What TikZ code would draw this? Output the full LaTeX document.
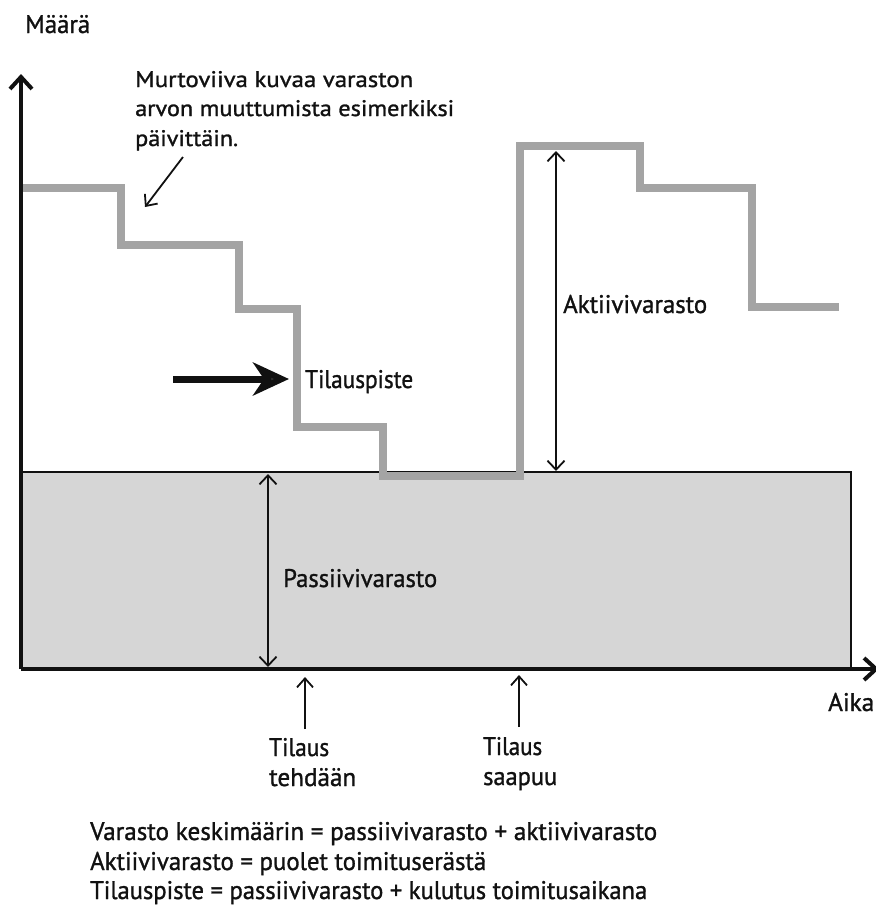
\documentclass[tikz,border=0pt]{standalone}
\usepackage{fontspec}
\usepackage{graphicx}
\setmainfont{PT Sans}[FakeBold=1.2]
\usetikzlibrary{arrows.meta}
\definecolor{inkc}{HTML}{111111}
\definecolor{fillc}{HTML}{D6D6D6}
\definecolor{stepc}{HTML}{A4A4A4}
\newsavebox\fitbx
\newcommand\fitline[2]{\sbox\fitbx{#2}\pgfmathsetmacro\fitsx{#1/\the\wd\fitbx}\scalebox{\fitsx}[1]{\usebox\fitbx}}
\begin{document}
\begin{tikzpicture}[x=1pt,y=-1pt,
  lbl/.style={inner sep=0pt, anchor=base west, text=inkc, font=\fontsize{25.5}{30}\selectfont},
  note/.style={inner sep=0pt, anchor=base west, text=inkc, font=\fontsize{22.5}{26}\selectfont},
  axisline/.style={draw=inkc, line width=3.2pt, -{Straight Barb[length=12pt,width=22pt,line width=4pt]}},
  dimline/.style={draw=inkc, line width=1.8pt, {Straight Barb[length=9pt,width=17pt]}-{Straight Barb[length=9pt,width=17pt]}},
  pointer/.style={draw=inkc, line width=1.8pt, -{Straight Barb[length=9pt,width=16pt]}},
  bigarrow/.style={draw=inkc, line width=7pt, -{Stealth[length=36pt,width=33pt,inset=11pt,fill=black!78]}},
  stepline/.style={draw=stepc, line width=8pt, line join=miter, line cap=rect}]
\useasboundingbox (0,0) rectangle (876,906);

% coordinates
\coordinate (O) at (21,669);
\coordinate (ytop) at (21,74);
\coordinate (xend) at (879,669);
\coordinate (rtl) at (21,472);
\coordinate (rtr) at (851,472);
\coordinate (rbr) at (851,669);

% passive stock area
\fill[fillc] (rtl) rectangle (rbr);
\draw[draw=inkc, line width=1.8pt] (rtl) -- (rtr) -- (rbr);

% stepped stock level
\draw[stepline] (23,188) -- (121,188) -- (121,245) -- (239,245) -- (239,309) -- (297,309)
  -- (297,427) -- (383,427) -- (383,476) -- (520,476) -- (520,146) -- (640,146)
  -- (640,188) -- (752,188) -- (752,307) -- (835,307);

% axes
\draw[axisline] (O) -- (ytop);
\draw[axisline] (O) -- (xend);
\node[lbl] (maara) at (25,33) {\fitline{65}{Määrä}};
\node[lbl] (aika) at (828,711) {\fitline{46}{Aika}};

% annotation
\node[note] (murto1) at (135,87) {\fitline{278}{Murtoviiva kuvaa varaston}};
\node[note] (murto2) at (135,116) {\fitline{319}{arvon muuttumista esimerkiksi}};
\node[note] (murto3) at (135,146) {\fitline{103}{päivittäin.}};
\coordinate (murtoA) at (183,157);
\coordinate (murtoB) at (145,207);
\draw[pointer] (murtoA) -- (murtoB);

% reorder point
\coordinate (tpA) at (173,379);
\coordinate (tpB) at (289,379);
\draw[bigarrow] (tpA) -- (tpB);
\node[lbl] (tilauspiste) at (305,388) {\fitline{108}{Tilauspiste}};

% active stock
\coordinate (akA) at (556,151);
\coordinate (akB) at (556,471);
\draw[dimline] (akA) -- (akB);
\node[lbl] (aktiivi) at (563,313) {\fitline{144}{Aktiivivarasto}};

% passive stock
\coordinate (paA) at (268,474);
\coordinate (paB) at (268,667);
\draw[dimline] (paA) -- (paB);
\node[lbl] (passiivi) at (283,587) {\fitline{154}{Passiivivarasto}};

% order events
\node[lbl] (tehdaan1) at (269,756) {\fitline{60}{Tilaus}};
\node[lbl] (tehdaan2) at (269,786) {\fitline{87}{tehdään}};
\coordinate (teA) at (305,729);
\coordinate (teB) at (305,677);
\draw[pointer] (teA) -- (teB);
\node[lbl] (saapuu1) at (483,755) {\fitline{59}{Tilaus}};
\node[lbl] (saapuu2) at (483,785) {\fitline{74}{saapuu}};
\coordinate (saA) at (519,727);
\coordinate (saB) at (519,675);
\draw[pointer] (saA) -- (saB);

% formulas
\node[lbl] (kaava1) at (90,840) {\fitline{567}{Varasto keskimäärin = passiivivarasto + aktiivivarasto}};
\node[lbl] (kaava2) at (90,870) {\fitline{396}{Aktiivivarasto = puolet toimituserästä}};
\node[lbl] (kaava3) at (90,899) {\fitline{557}{Tilauspiste = passiivivarasto + kulutus toimitusaikana}};
\end{tikzpicture}
\end{document}
